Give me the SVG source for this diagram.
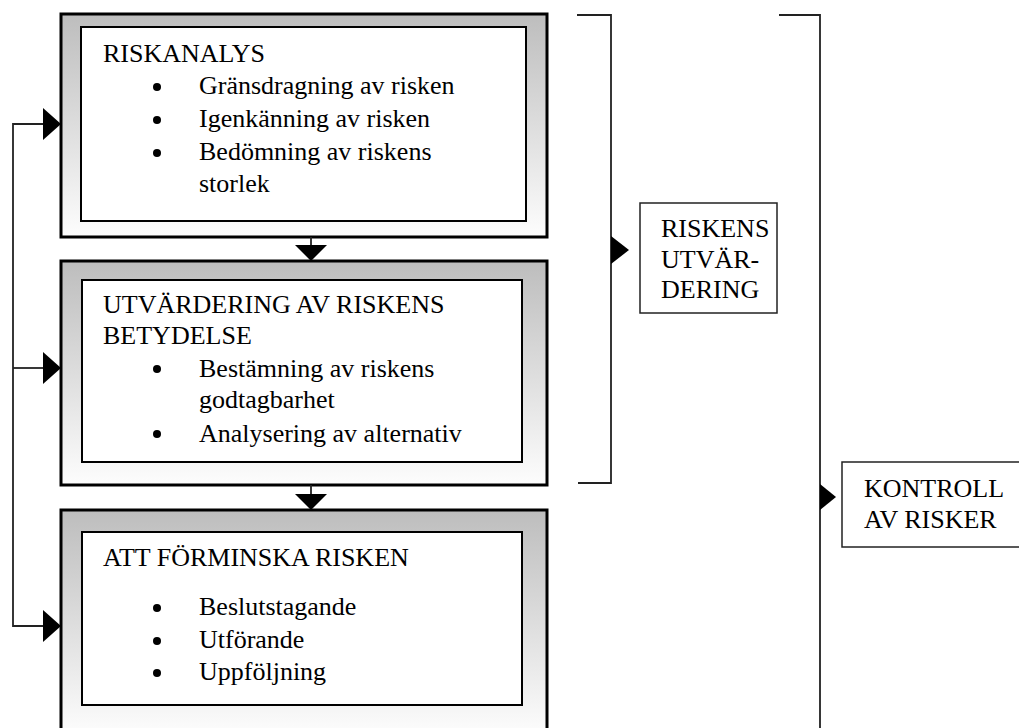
<svg xmlns="http://www.w3.org/2000/svg" width="1019" height="728" viewBox="0 0 1019 728">
<style>
.outer{stroke:#000;stroke-width:3;}
.inner{fill:#fff;stroke:#000;stroke-width:2;}
.lbl{fill:#fff;stroke:#222;stroke-width:1.5;}
.t{font-family:"Liberation Serif","Times New Roman",serif;font-size:26px;fill:#000;}
.ln{fill:none;stroke:#222;stroke-width:1.8;}
.ah{fill:#000;}
.dot{fill:#000;}
</style>
<defs>
<linearGradient id="g" x1="0" y1="0" x2="0" y2="1">
<stop offset="0" stop-color="#bdbdbd"/>
<stop offset="1" stop-color="#fdfdfd"/>
</linearGradient>
</defs>
<rect width="1019" height="728" fill="#fff"/>
<g id="box-riskanalys">
<rect class="outer" x="61" y="14" width="486" height="223" fill="url(#g)"/>
<rect class="inner" x="81" y="27" width="445" height="194"/>
<text class="t" x="103" y="62">RISKANALYS</text>
<circle class="dot" cx="157" cy="87" r="4"/>
<text class="t" x="199" y="94">Gränsdragning av risken</text>
<circle class="dot" cx="157" cy="120" r="4"/>
<text class="t" x="199" y="127">Igenkänning av risken</text>
<circle class="dot" cx="157" cy="153" r="4"/>
<text class="t" x="199" y="160">Bedömning av riskens</text>
<text class="t" x="199" y="192">storlek</text>
</g>
<g id="box-utvardering">
<rect class="outer" x="61" y="261" width="486" height="224" fill="url(#g)"/>
<rect class="inner" x="82" y="280" width="440" height="182"/>
<text class="t" x="103" y="313">UTVÄRDERING AV RISKENS</text>
<text class="t" x="103" y="344">BETYDELSE</text>
<circle class="dot" cx="157" cy="369" r="4"/>
<text class="t" x="199" y="377">Bestämning av riskens</text>
<text class="t" x="199" y="408">godtagbarhet</text>
<circle class="dot" cx="157" cy="434" r="4"/>
<text class="t" x="199" y="442">Analysering av alternativ</text>
</g>
<g id="box-forminska">
<rect class="outer" x="61" y="510" width="486" height="225" fill="url(#g)"/>
<rect class="inner" x="82" y="532" width="440" height="173"/>
<text class="t" x="103" y="566">ATT FÖRMINSKA RISKEN</text>
<circle class="dot" cx="157" cy="608" r="4"/>
<text class="t" x="199" y="615">Beslutstagande</text>
<circle class="dot" cx="157" cy="641" r="4"/>
<text class="t" x="199" y="648">Utförande</text>
<circle class="dot" cx="157" cy="673" r="4"/>
<text class="t" x="199" y="680">Uppföljning</text>
</g>
<g id="label-riskens">
<rect class="lbl" x="640" y="203" width="137" height="110"/>
<text class="t" x="661" y="237">RISKENS</text>
<text class="t" x="661" y="268">UTVÄR-</text>
<text class="t" x="661" y="298">DERING</text>
</g>
<g id="label-kontroll">
<rect class="lbl" x="842" y="462" width="180" height="85"/>
<text class="t" x="864" y="497">KONTROLL</text>
<text class="t" x="864" y="528">AV RISKER</text>
</g>
<g id="connectors">
<line class="ln" x1="311" y1="237" x2="311" y2="248"/>
<polygon class="ah" points="295,245 327,245 311,261"/>
<line class="ln" x1="311" y1="485" x2="311" y2="497"/>
<polygon class="ah" points="295,494 327,494 311,510"/>
<polyline class="ln" points="43,124 13,124 13,626 43,626"/>
<line class="ln" x1="13" y1="368" x2="43" y2="368"/>
<polygon class="ah" points="43,108 61,124 43,140"/>
<polygon class="ah" points="43,352 61,368 43,384"/>
<polygon class="ah" points="43,610 61,626 43,642"/>
<polyline class="ln" points="577,15 611,15 611,483 578,483"/>
<polygon class="ah" points="611,236 629,250 611,264"/>
<polyline class="ln" points="779,15 820,15 820,730"/>
<polygon class="ah" points="820,484 836,497 820,510"/>
</g>
</svg>
